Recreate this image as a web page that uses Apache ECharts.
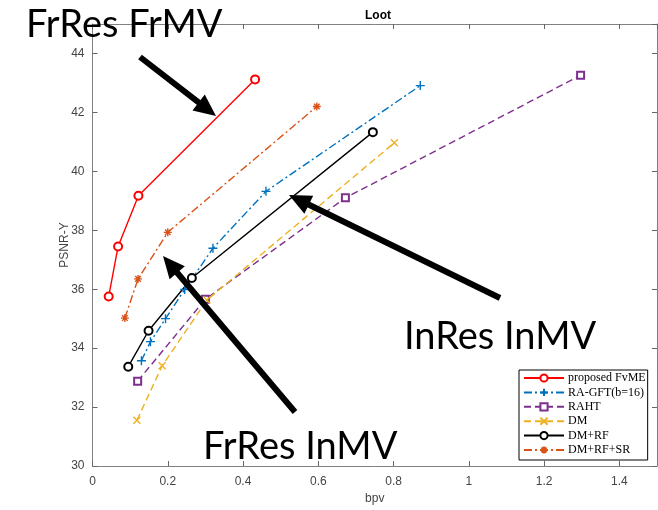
<!DOCTYPE html>
<html>
<head>
<meta charset="utf-8">
<script src="https://cdn.jsdelivr.net/npm/echarts@6/dist/echarts.min.js"></script>
<style>
  html, body { margin: 0; padding: 0; background: #fff; }
  #chart { width: 658px; height: 510px; }
</style>
</head>
<body>
<div id="chart"></div>
<script>
// values
const seriesNames = ["proposed FvME", "RA-GFT(b=16)", "RAHT", "DM", "DM+RF", "DM+RF+SR"];
const fvmeX = [0.043, 0.068, 0.122, 0.432];
const fvmeY = [35.75, 37.45, 39.17, 43.12];
const gftX = [0.13, 0.154, 0.194, 0.245, 0.32, 0.461, 0.871];
const gftY = [33.57, 34.22, 35.0, 35.99, 37.39, 39.32, 42.91];
const rahtX = [0.12, 0.30, 0.672, 1.297];
const rahtY = [32.88, 35.66, 39.10, 43.26];
const dmX = [0.118, 0.185, 0.304, 0.802];
const dmY = [31.55, 33.40, 35.63, 40.97];
const dmrfX = [0.095, 0.149, 0.264, 0.745];
const dmrfY = [33.37, 34.59, 36.38, 41.33];
const dmrfsrX = [0.086, 0.121, 0.2, 0.596];
const dmrfsrY = [35.02, 36.35, 37.93, 42.2];

// the overlaid slide annotations (pixel positions)
const noteTexts = ["FrRes FrMV", "InRes InMV", "FrRes InMV"];
const notePos = [[26, 25], [404, 337], [203, 447]];
const arrowPos = [[140, 57, 216, 116], [500, 298, 289, 195], [295, 412, 163, 256]];

const PLUS = "path://M5,0V10M0,5H10";
const CROSS = "path://M0,0L10,10M10,0L0,10";
const STAR = "path://M5,0V10M0,5H10M1.5,1.5L8.5,8.5M8.5,1.5L1.5,8.5";
const dashed = [7, 4];
const dashDot = [8, 3, 2, 3];

function pairs(xs, ys) {
  return xs.map((x, i) => [x, ys[i]]);
}

function makeSeries(name, xs, ys, color, dash, symbol, size) {
  return {
    name: name,
    type: "line",
    data: pairs(xs, ys),
    color: color,
    symbol: symbol,
    symbolSize: size,
    lineStyle: { color: color, width: 1.4, type: dash },
    itemStyle: { color: color, borderColor: color, borderWidth: 1.4 },
    z: 3,
  };
}

function arrow(x1, y1, x2, y2) {
  const len = Math.hypot(x2 - x1, y2 - y1);
  const ux = (x2 - x1) / len, uy = (y2 - y1) / len;
  const head = 22, half = 10;
  const bx = x2 - ux * head, by = y2 - uy * head;
  return [
    {
      type: "line",
      shape: { x1: x1, y1: y1, x2: bx + ux * 2, y2: by + uy * 2 },
      style: { stroke: "#000", lineWidth: 6 },
      z: 10,
    },
    {
      type: "polygon",
      shape: { points: [[x2, y2], [bx - uy * half, by + ux * half], [bx + uy * half, by - ux * half]] },
      style: { fill: "#000" },
      z: 10,
    },
  ];
}

const graphics = [];
noteTexts.forEach((t, i) => {
  graphics.push({
    type: "text",
    x: notePos[i][0],
    y: notePos[i][1],
    style: { text: t, font: "38px Lato", fill: "#000", verticalAlign: "middle" },
    z: 10,
  });
});
arrowPos.forEach(a => graphics.push(...arrow(a[0], a[1], a[2], a[3])));

const axisCol = "#808080";
const tickCol = "#666";
const labelStyle = { color: "#444", fontSize: 12, fontFamily: "Liberation Sans" };
const tick = { show: true, inside: true, length: 5, lineStyle: { color: tickCol } };

const chart = echarts.init(document.getElementById("chart"));
chart.setOption({
  animation: false,
  backgroundColor: "#fff",
  title: {
    text: "Loot",
    left: 360,
    top: 5,
    textStyle: { fontSize: 12, fontWeight: "bold", color: "#000", fontFamily: "Liberation Sans" },
  },
  grid: { left: 92.5, right: 1, top: 24, bottom: 41 },
  legend: {
    orient: "vertical",
    left: 519,
    top: 370,
    data: seriesNames,
    itemWidth: 40,
    itemHeight: 9,
    itemGap: 2.4,
    padding: [2, 2, 4, 4],
    backgroundColor: "#fff",
    borderColor: "#000",
    borderWidth: 1,
    textStyle: { fontFamily: "Liberation Serif", fontSize: 12, lineHeight: 12, color: "#000", padding: [0, 0, 0, -1] },
    z: 12,
  },
  xAxis: [
    {
      type: "value",
      min: 0,
      max: 1.5,
      interval: 0.2,
      name: "bpv",
      nameLocation: "middle",
      nameGap: 27,
      nameMoveOverlap: false,
      nameTextStyle: labelStyle,
      axisLine: { onZero: false, lineStyle: { color: axisCol } },
      axisTick: tick,
      axisLabel: Object.assign({ showMaxLabel: false, margin: 10 }, labelStyle),
      splitLine: { show: false },
    },
    {
      type: "value",
      position: "top",
      min: 0,
      max: 1.5,
      interval: 0.2,
      axisLine: { onZero: false, lineStyle: { color: axisCol } },
      axisTick: tick,
      axisLabel: { show: false },
      splitLine: { show: false },
    },
  ],
  yAxis: [
    {
      type: "value",
      position: "left",
      min: 30,
      max: 45,
      interval: 2,
      name: "PSNR-Y",
      nameLocation: "middle",
      nameGap: 22,
      nameMoveOverlap: false,
      nameTextStyle: labelStyle,
      axisLine: { show: true, onZero: false, lineStyle: { color: axisCol } },
      axisTick: tick,
      axisLabel: Object.assign({ showMaxLabel: false, margin: 8 }, labelStyle),
      splitLine: { show: false },
    },
    {
      type: "value",
      position: "right",
      min: 30,
      max: 45,
      interval: 2,
      axisLine: { show: true, onZero: false, lineStyle: { color: axisCol } },
      axisTick: tick,
      axisLabel: { show: false },
      splitLine: { show: false },
    },
  ],
  series: [
    makeSeries(seriesNames[0], fvmeX, fvmeY, "#FF0000", "solid", "emptyCircle", 8),
    makeSeries(seriesNames[1], gftX, gftY, "#0072BD", dashDot, PLUS, 9),
    makeSeries(seriesNames[2], rahtX, rahtY, "#7E2F8E", dashed, "emptyRect", 7),
    makeSeries(seriesNames[3], dmX, dmY, "#EDB120", dashed, CROSS, 7),
    makeSeries(seriesNames[4], dmrfX, dmrfY, "#000000", "solid", "emptyCircle", 8),
    makeSeries(seriesNames[5], dmrfsrX, dmrfsrY, "#D95319", dashDot, STAR, 8),
  ],
  graphic: graphics,
});
</script>
</body>
</html>
